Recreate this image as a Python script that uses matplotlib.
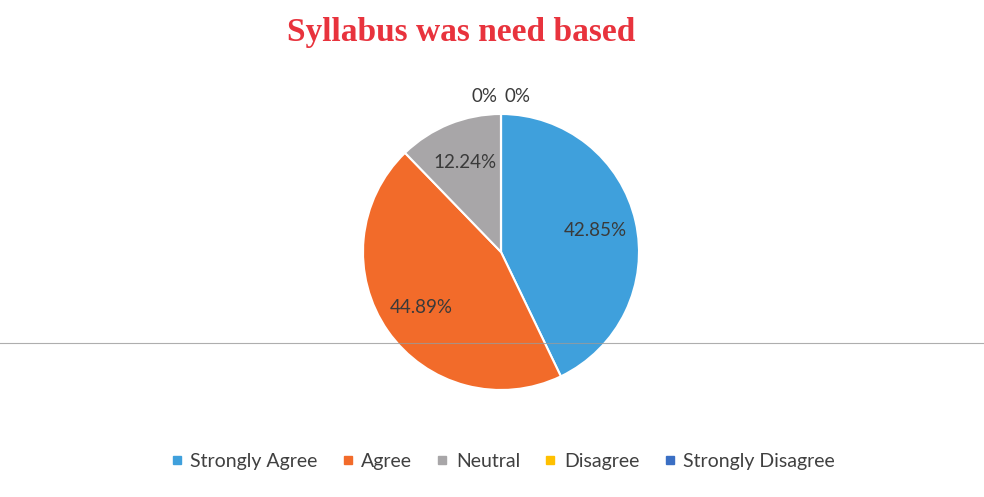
import matplotlib.pyplot as plt
from matplotlib.lines import Line2D
import numpy as np

categories = ['Strongly Agree', 'Agree', 'Neutral', 'Disagree', 'Strongly Disagree']
values = [42.85, 44.89, 12.24, 0, 0]
value_labels = ['42.85%', '44.89%', '12.24%', '0%', '0%']
colors = ['#3FA0DC', '#F26B2A', '#A8A6A8', '#FFC000', '#3A6FC4']

fig = plt.figure(figsize=(9.84, 4.97), dpi=100)
fig.patch.set_facecolor('white')

# pie axes, placed so the circle sits like in the scan
ax = fig.add_axes([363/984, (497-390)/497, 276/984, 276/497])
wedges, _ = ax.pie(values, colors=colors, startangle=90, counterclock=False,
                   wedgeprops=dict(edgecolor='white', linewidth=1.5))
ax.set_xlim(-1, 1)
ax.set_ylim(-1, 1)
ax.axis('off')

# data labels
side = -1
for w, lab, v in zip(wedges, value_labels, values):
    mid = np.deg2rad((w.theta1 + w.theta2) / 2)
    if v > 0:
        r = 0.70
        x, y = r*np.cos(mid), r*np.sin(mid)
    else:
        # zero slices: Excel pushes them outside, side by side
        x, y = 1.13*np.cos(mid) + side*0.12, 1.13*np.sin(mid)
        side = 1
    ax.text(x, y, lab, ha='center', va='center', fontsize=13.5,
            family='Lato', color='#3a3a3a', clip_on=False)

fig.text(0.469, 0.935, 'Syllabus was need based', ha='center', va='center',
         fontsize=24, fontweight='bold', family='Liberation Serif', color='#E8333D')

handles = [Line2D([], [], marker='s', linestyle='', markersize=6,
                  markerfacecolor=c, markeredgecolor=c) for c in colors]
fig.legend(handles, categories, loc='center', bbox_to_anchor=(0.511, 0.072),
           ncol=5, frameon=False, handlelength=0.6, handletextpad=0.4,
           columnspacing=1.25, prop=dict(family='Lato', size=14),
           labelcolor='#404040')

# scanner streak across the page
fig.add_artist(Line2D([0, 1], [1 - 343/497, 1 - 343/497], color='#9a9a9a',
                      linewidth=0.8, alpha=0.8))

fig.savefig('out.png', dpi=100)
